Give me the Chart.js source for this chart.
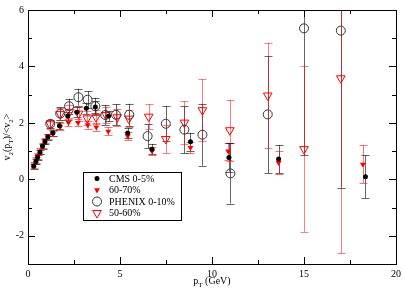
<!DOCTYPE html>
<html>
<head>
<meta charset="utf-8">
<script src="https://cdn.jsdelivr.net/npm/chart.js@4/dist/chart.umd.min.js"></script>
<style>
  html, body { margin: 0; padding: 0; background: #fff; }
  #wrap { width: 405px; height: 291px; }
</style>
</head>
<body>
<div id="wrap"><canvas id="chart" width="405" height="291"></canvas></div>
<script>
// CMS 0-5%
const cmsX = [0.31, 0.43, 0.52, 0.65, 0.79, 0.92, 1.08, 1.35, 1.71, 2.16, 2.66, 3.17, 3.66, 4.38, 5.42, 6.74, 8.83, 10.92, 13.62, 18.34];
const cmsY = [0.46, 0.63, 0.78, 0.96, 1.17, 1.34, 1.50, 1.64, 1.90, 2.24, 2.38, 2.52, 2.56, 2.24, 1.64, 1.07, 1.33, 0.77, 0.72, 0.09];
const cmsErr = [0.08, 0.08, 0.08, 0.08, 0.08, 0.08, 0.09, 0.10, 0.12, 0.15, 0.18, 0.20, 0.20, 0.18, 0.18, 0.18, 0.32, 0.50, 0.50, 0.76];

// 60-70%
const c6070X = [0.31, 0.43, 0.52, 0.65, 0.79, 0.92, 1.08, 1.35, 1.75, 2.20, 2.72, 3.24, 3.71, 4.36, 5.42, 6.74, 8.83, 10.88, 13.62, 18.20];
const c6070Y = [0.50, 0.68, 0.83, 1.00, 1.20, 1.37, 1.52, 1.62, 1.86, 2.01, 2.01, 1.93, 1.85, 1.70, 1.53, 1.00, 1.12, 1.00, 0.59, 0.53];
const c6070Err = [0.10, 0.10, 0.10, 0.10, 0.10, 0.10, 0.10, 0.10, 0.12, 0.13, 0.13, 0.13, 0.13, 0.14, 0.15, 0.15, 0.20, 0.30, 0.40, 0.67];

// PHENIX 0-10%
const phenixX = [1.21, 1.75, 2.23, 2.74, 3.24, 3.66, 4.20, 4.78, 5.50, 6.50, 7.49, 8.50, 9.48, 11.00, 13.03, 15.00, 17.00];
const phenixY = [1.97, 2.33, 2.59, 2.91, 2.82, 2.59, 2.28, 2.29, 2.29, 1.53, 1.97, 1.76, 1.58, 0.21, 2.30, 5.35, 5.27];
const phenixErr = [0.15, 0.22, 0.27, 0.30, 0.30, 0.30, 0.35, 0.37, 0.39, 0.42, 0.62, 0.83, 1.10, 1.07, 2.08, 4.50, 5.56];

// 50-60%
const c5060X = [1.21, 1.75, 2.25, 2.75, 3.22, 3.70, 4.24, 4.85, 5.48, 6.56, 7.49, 8.50, 9.48, 10.97, 13.03, 15.00, 17.00];
const c5060Y = [1.95, 2.31, 2.39, 2.33, 2.16, 2.20, 2.28, 2.20, 2.15, 2.22, 1.43, 2.01, 2.45, 1.74, 2.97, 1.07, 3.58];
const c5060Err = [0.15, 0.22, 0.23, 0.25, 0.25, 0.25, 0.30, 0.30, 0.30, 0.44, 0.50, 0.75, 1.10, 1.08, 1.87, 2.93, 6.20];

// ticks
const xMajorTicks = [0, 5, 10, 15, 20];
const xMinorTicks = [2.5, 7.5, 12.5, 17.5];
const yMajorTicks = [-2, 0, 2, 4, 6];
const yMinorTicks = [-3, -1, 1, 3, 5];

const FONT = '"Liberation Serif", "Times New Roman", serif';

function pts(xs, ys) {
    return xs.map((x, i) => ({ x: x, y: ys[i] }));
}

// error bars drawn through the scales
const errorBars = {
    id: 'errorBars',
    beforeDatasetsDraw(chart) {
        const ctx = chart.ctx;
        const xs = chart.scales.x, ys = chart.scales.y;
        const area = chart.chartArea;
        ctx.save();
        ctx.beginPath();
        ctx.rect(area.left, area.top, area.right - area.left, area.bottom - area.top);
        ctx.clip();
        chart.data.datasets.forEach(ds => {
            ctx.strokeStyle = ds.errColor;
            ctx.lineWidth = 1;
            ds.data.forEach((p, i) => {
                const e = ds.errors[i];
                const px = Math.round(xs.getPixelForValue(p.x)) + 0.5;
                const top = ys.getPixelForValue(p.y + e);
                const bot = ys.getPixelForValue(p.y - e);
                ctx.beginPath();
                ctx.moveTo(px, top);
                ctx.lineTo(px, bot);
                ctx.moveTo(px - 4, Math.round(top) + 0.5);
                ctx.lineTo(px + 4, Math.round(top) + 0.5);
                ctx.moveTo(px - 4, Math.round(bot) + 0.5);
                ctx.lineTo(px + 4, Math.round(bot) + 0.5);
                ctx.stroke();
            });
        });
        ctx.restore();
    }
};

function richText(ctx, parts, size) {
    let w = 0;
    parts.forEach(p => {
        ctx.font = (p.sub ? size * 0.7 : size) + 'px ' + FONT;
        p.w = ctx.measureText(p.t).width;
        w += p.w;
    });
    return w;
}

function drawRich(ctx, parts, size, x, y) {
    parts.forEach(p => {
        ctx.font = (p.sub ? size * 0.7 : size) + 'px ' + FONT;
        ctx.fillText(p.t, x, p.sub ? y + size * 0.3 : y);
        x += p.w;
    });
}

const frame = {
    id: 'frame',
    afterDraw(chart) {
        const ctx = chart.ctx;
        const a = chart.chartArea;
        const xs = chart.scales.x, ys = chart.scales.y;
        ctx.save();
        ctx.strokeStyle = '#000';
        ctx.lineWidth = 1;
        ctx.strokeRect(Math.round(a.left) + 0.5, Math.round(a.top) + 0.5,
            Math.round(a.right - a.left), Math.round(a.bottom - a.top));
        ctx.beginPath();
        const xt = (v, len) => {
            const px = Math.round(xs.getPixelForValue(v)) + 0.5;
            ctx.moveTo(px, a.bottom); ctx.lineTo(px, a.bottom - len);
            ctx.moveTo(px, a.top); ctx.lineTo(px, a.top + len);
        };
        const yt = (v, len) => {
            const py = Math.round(ys.getPixelForValue(v)) + 0.5;
            ctx.moveTo(a.left, py); ctx.lineTo(a.left + len, py);
            ctx.moveTo(a.right, py); ctx.lineTo(a.right - len, py);
        };
        xMajorTicks.forEach(v => xt(v, 7));
        xMinorTicks.forEach(v => xt(v, 4));
        yMajorTicks.forEach(v => yt(v, 7));
        yMinorTicks.forEach(v => yt(v, 4));
        ctx.stroke();

        // axis titles
        ctx.fillStyle = '#000';
        ctx.textBaseline = 'alphabetic';
        const xTitle = [{ t: 'p' }, { t: 'T', sub: true }, { t: ' (GeV)' }];
        const xw = richText(ctx, xTitle, 10);
        drawRich(ctx, xTitle, 10, (a.left + a.right) / 2 - xw / 2, 284);

        const yTitle = [{ t: 'v' }, { t: '2', sub: true }, { t: '(p' }, { t: 'T', sub: true },
            { t: ')/<v' }, { t: '2', sub: true }, { t: '>' }];
        const yw = richText(ctx, yTitle, 10);
        ctx.translate(10, (a.top + a.bottom) / 2);
        ctx.rotate(-Math.PI / 2);
        drawRich(ctx, yTitle, 10, -yw / 2, 0);
        ctx.restore();

        // legend box
        ctx.save();
        const lx = 83.5, ly = 172.5, lw = 98, lh = 48;
        ctx.fillStyle = '#fff';
        ctx.fillRect(lx, ly, lw, lh);
        ctx.strokeStyle = '#000';
        ctx.lineWidth = 1;
        ctx.strokeRect(lx, ly, lw, lh);
        chart.data.datasets.forEach((ds, i) => {
            const cy = 178.5 + i * 11.5;
            ctx.save();
            ctx.fillStyle = ds.pointBackgroundColor;
            ctx.strokeStyle = ds.pointBorderColor;
            ctx.lineWidth = ds.pointBorderWidth;
            Chart.helpers.drawPoint(ctx, {
                pointStyle: ds.pointStyle,
                rotation: ds.pointRotation || 0,
                radius: ds.pointRadius,
                borderWidth: ds.pointBorderWidth
            }, 97, cy);
            ctx.restore();
            ctx.fillStyle = '#000';
            ctx.font = '10px ' + FONT;
            ctx.textBaseline = 'middle';
            ctx.fillText(ds.label, 109, cy + 0.5);
        });
        ctx.restore();
    }
};

new Chart(document.getElementById('chart'), {
    type: 'scatter',
    data: {
        datasets: [
            {
                label: 'CMS 0-5%',
                data: pts(cmsX, cmsY),
                errors: cmsErr,
                errColor: 'rgba(0,0,0,0.6)',
                pointStyle: 'circle',
                pointRadius: 2.5,
                pointBackgroundColor: '#000',
                pointBorderColor: '#000',
                pointBorderWidth: 0
            },
            {
                label: '60-70%',
                data: pts(c6070X, c6070Y),
                errors: c6070Err,
                errColor: 'rgba(255,0,0,0.55)',
                pointStyle: 'triangle',
                pointRotation: 180,
                pointRadius: 3.4,
                pointBackgroundColor: '#ff0000',
                pointBorderColor: '#ff0000',
                pointBorderWidth: 0
            },
            {
                label: 'PHENIX 0-10%',
                data: pts(phenixX, phenixY),
                errors: phenixErr,
                errColor: 'rgba(0,0,0,0.6)',
                pointStyle: 'circle',
                pointRadius: 4.5,
                pointBackgroundColor: 'rgba(0,0,0,0)',
                pointBorderColor: '#333',
                pointBorderWidth: 1
            },
            {
                label: '50-60%',
                data: pts(c5060X, c5060Y),
                errors: c5060Err,
                errColor: 'rgba(255,0,0,0.5)',
                pointStyle: 'triangle',
                pointRotation: 180,
                pointRadius: 5,
                pointBackgroundColor: 'rgba(0,0,0,0)',
                pointBorderColor: '#ff0000',
                pointBorderWidth: 1
            }
        ]
    },
    options: {
        responsive: false,
        animation: false,
        layout: { padding: { top: 4, right: 7, left: 0, bottom: 0 } },
        plugins: {
            legend: { display: false },
            tooltip: { enabled: false }
        },
        scales: {
            x: {
                type: 'linear',
                min: 0, max: 20,
                grid: { display: false, drawTicks: false },
                border: { display: false },
                afterBuildTicks: s => { s.ticks = xMajorTicks.map(v => ({ value: v })); },
                afterFit: s => { s.height = 27; },
                ticks: { color: '#000', padding: 4, maxRotation: 0, font: { family: FONT, size: 10 } }
            },
            y: {
                type: 'linear',
                min: -3, max: 6,
                grid: { display: false, drawTicks: false },
                border: { display: false },
                afterBuildTicks: s => { s.ticks = yMajorTicks.map(v => ({ value: v })); },
                afterFit: s => { s.width = 28; },
                ticks: { color: '#000', padding: 4, font: { family: FONT, size: 10 } }
            }
        }
    },
    plugins: [errorBars, frame]
});
</script>
</body>
</html>
